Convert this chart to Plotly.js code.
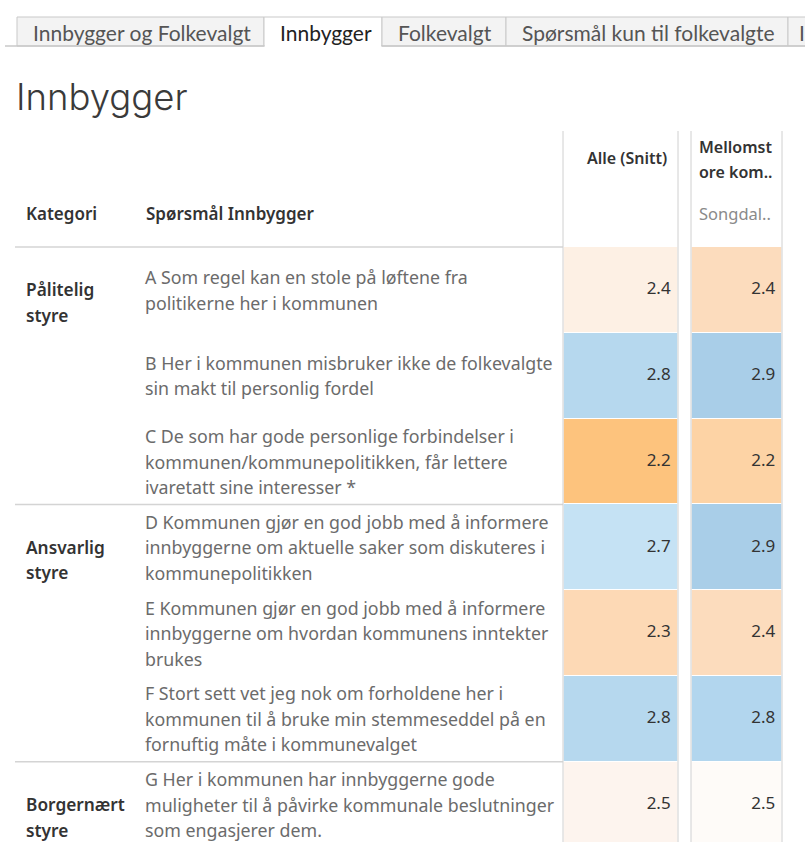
<!DOCTYPE html>
<html>
<head>
<meta charset="utf-8">
<script src="https://cdn.plot.ly/plotly-3.0.1.min.js"></script>
<style>
html, body { margin: 0; padding: 0; background: #ffffff; }
#chart { width: 805px; height: 842px; }
</style>
</head>
<body>
<div id="chart"></div>
<script>
// ---------------- data ----------------
const tabLabels = ["Innbygger og Folkevalgt", "Innbygger", "Folkevalgt", "Spørsmål kun til folkevalgte", "I"];
const selectedTab = "Innbygger";
const pageTitle = "Innbygger";
const rowHeaderTitles = ["Kategori", "Spørsmål Innbygger"];
const categories = ["Pålitelig<br>styre", "Ansvarlig<br>styre", "Borgernært<br>styre"];
const categoryFirstRow = [0, 3, 6];
const questions = [
  "A Som regel kan en stole på løftene fra<br>politikerne her i kommunen",
  "B Her i kommunen misbruker ikke de folkevalgte<br>sin makt til personlig fordel",
  "C De som har gode personlige forbindelser i<br>kommunen/kommunepolitikken, får lettere<br>ivaretatt sine interesser *",
  "D Kommunen gjør en god jobb med å informere<br>innbyggerne om aktuelle saker som diskuteres i<br>kommunepolitikken",
  "E Kommunen gjør en god jobb med å informere<br>innbyggerne om hvordan kommunens inntekter<br>brukes",
  "F Stort sett vet jeg nok om forholdene her i<br>kommunen til å bruke min stemmeseddel på en<br>fornuftig måte i kommunevalget",
  "G Her i kommunen har innbyggerne gode<br>muligheter til å påvirke kommunale beslutninger<br>som engasjerer dem."
];
const columnHeaders = ["Alle (Snitt)", "Mellomst<br>ore kom.."];
const columnSubHeaders = ["", "Songdal.."];
const alleValues = [2.4, 2.8, 2.2, 2.7, 2.3, 2.8, 2.5];
const mellomValues = [2.4, 2.9, 2.2, 2.9, 2.4, 2.8, 2.5];

// ---------------- layout helpers ----------------
const W = 805, H = 842;
const px = x => x / W;
const py = y => 1 - y / H;
const rowTop = 247, rowH = 85.8, lineH = 25.5;
const rowIdx = questions.map((_, i) => i);

const bodyFont = "'Noto Sans', 'Open Sans', sans-serif";
const tabFont = "Lato, 'Noto Sans', sans-serif";

// diverging scales (orange = low, blue = high), one per column
const alleScale = [
  [0, '#fdc37d'], [1/6, '#fdd9b5'], [2/6, '#fdf0e4'], [3/6, '#fdf4ee'],
  [5/6, '#c5e2f4'], [1, '#b6d8ee']
];
const mellomScale = [
  [0, '#fdd3a5'], [2/7, '#fcdcbd'], [3/7, '#fefbf8'],
  [6/7, '#b2d6ee'], [1, '#a9cee8']
];

const traces = [
  {
    type: 'heatmap', x: [0], y: rowIdx, z: alleValues.map(v => [v]),
    zmin: 2.2, zmax: 2.8, colorscale: alleScale, showscale: false,
    ygap: 1, hoverinfo: 'skip', xaxis: 'x', yaxis: 'y'
  },
  {
    type: 'heatmap', x: [0], y: rowIdx, z: mellomValues.map(v => [v]),
    zmin: 2.2, zmax: 2.9, colorscale: mellomScale, showscale: false,
    ygap: 1, hoverinfo: 'skip', xaxis: 'x2', yaxis: 'y'
  },
  {
    type: 'scatter', mode: 'text', x: alleValues.map(() => 0.44), y: rowIdx,
    text: alleValues.map(v => v.toFixed(1)), textposition: 'middle left',
    textfont: { family: bodyFont, size: 17, color: '#333333' },
    cliponaxis: false, hoverinfo: 'skip', showlegend: false, xaxis: 'x', yaxis: 'y'
  },
  {
    type: 'scatter', mode: 'text', x: mellomValues.map(() => 0.43), y: rowIdx,
    text: mellomValues.map(v => v.toFixed(1)), textposition: 'middle left',
    textfont: { family: bodyFont, size: 17, color: '#333333' },
    cliponaxis: false, hoverinfo: 'skip', showlegend: false, xaxis: 'x2', yaxis: 'y'
  }
];

const annotations = [];
const shapes = [];

// tabs
const tabEdges = [17, 264, 382, 506, 788, 860];
tabLabels.forEach((t, i) => {
  const sel = t === selectedTab;
  shapes.push({
    type: 'rect', xref: 'paper', yref: 'paper',
    x0: px(tabEdges[i]), x1: px(tabEdges[i + 1]), y0: py(46), y1: py(17),
    fillcolor: sel ? '#ffffff' : '#f3f3f3', line: { color: '#c9c9c9', width: 1 }, layer: 'below'
  });
  annotations.push({
    text: t, xref: 'paper', yref: 'paper', x: px(tabEdges[i] + (i === tabLabels.length - 1 ? 9 : 14)), y: py(32),
    xanchor: 'left', yanchor: 'middle', showarrow: false,
    font: { family: tabFont, size: 21, color: sel ? '#222222' : '#555555' }
  });
});
// bottom line of tab strip, interrupted under selected tab
const si = tabLabels.indexOf(selectedTab);
shapes.push({ type: 'line', xref: 'paper', yref: 'paper', x0: px(5), x1: px(tabEdges[si]), y0: py(46), y1: py(46), line: { color: '#c9c9c9', width: 1.5 } });
shapes.push({ type: 'line', xref: 'paper', yref: 'paper', x0: px(tabEdges[si + 1]), x1: 1, y0: py(46), y1: py(46), line: { color: '#c9c9c9', width: 1.5 } });
shapes.push({ type: 'line', xref: 'paper', yref: 'paper', x0: px(tabEdges[si] + 1), x1: px(tabEdges[si + 1] - 1), y0: py(46), y1: py(46), line: { color: '#ffffff', width: 2 } });

// title
annotations.push({
  text: pageTitle, xref: 'paper', yref: 'paper', x: px(14), y: py(97),
  xanchor: 'left', yanchor: 'middle', showarrow: false,
  font: { family: "Inter, 'Open Sans', sans-serif", size: 36.5, color: '#3a3a3a', weight: 300 }
});

// row header titles
annotations.push({
  text: rowHeaderTitles[0], xref: 'paper', yref: 'paper', x: px(24), y: py(213),
  xanchor: 'left', yanchor: 'middle', showarrow: false,
  font: { family: bodyFont, size: 17, color: '#333333', weight: 600 }
});
annotations.push({
  text: rowHeaderTitles[1], xref: 'paper', yref: 'paper', x: px(144), y: py(213),
  xanchor: 'left', yanchor: 'middle', showarrow: false,
  font: { family: bodyFont, size: 17, color: '#333333', weight: 600 }
});

// column headers
annotations.push({
  text: columnHeaders[0], xref: 'paper', yref: 'paper', x: px(585), y: py(158),
  xanchor: 'left', yanchor: 'middle', showarrow: false,
  font: { family: bodyFont, size: 16, color: '#333333', weight: 600 }
});
columnHeaders[1].split('<br>').forEach((ln, k) => {
  annotations.push({
    text: ln, xref: 'paper', yref: 'paper', x: px(697), y: py(147 + k * lineH),
    xanchor: 'left', yanchor: 'middle', showarrow: false,
    font: { family: bodyFont, size: 16, color: '#333333', weight: 600 }
  });
});
annotations.push({
  text: columnSubHeaders[1], xref: 'paper', yref: 'paper', x: px(697), y: py(213),
  xanchor: 'left', yanchor: 'middle', showarrow: false,
  font: { family: bodyFont, size: 16.5, color: '#8a8a8a' }
});

// questions, one annotation per line for Tableau-like line spacing
questions.forEach((q, i) => {
  const lines = q.split('<br>');
  lines.forEach((ln, k) => {
    annotations.push({
      text: ln, xref: 'paper', yref: 'y', x: px(143), y: i,
      yshift: -((k - (lines.length - 1) / 2) * lineH),
      xanchor: 'left', yanchor: 'middle', showarrow: false,
      font: { family: bodyFont, size: 17.8, color: '#6b6b6b' }
    });
  });
});

// categories: first line at centre of first row
categories.forEach((c, j) => {
  c.split('<br>').forEach((ln, k) => {
    annotations.push({
      text: ln, xref: 'paper', yref: 'y', x: px(24), y: categoryFirstRow[j],
      yshift: -(k * lineH), xanchor: 'left', yanchor: 'middle', showarrow: false,
      font: { family: bodyFont, size: 17.3, color: '#333333', weight: 600 }
    });
  });
});

// horizontal rules in the row header region
shapes.push({ type: 'line', xref: 'paper', yref: 'paper', x0: px(15), x1: px(563), y0: py(247), y1: py(247), line: { color: '#d4d4d4', width: 1.5 } });
categoryFirstRow.slice(1).forEach(r => {
  shapes.push({ type: 'line', xref: 'paper', yref: 'y', x0: px(15), x1: px(563), y0: r - 0.5, y1: r - 0.5, line: { color: '#d4d4d4', width: 1.5 } });
});
// column borders
[563, 678, 691, 782].forEach(x => {
  shapes.push({ type: 'line', xref: 'paper', yref: 'paper', x0: px(x), x1: px(x), y0: 0, y1: py(131), line: { color: '#d0d0d0', width: 1 }, layer: 'above' });
});

const layout = {
  width: W, height: H,
  margin: { l: 0, r: 0, t: 0, b: 0 },
  paper_bgcolor: '#ffffff', plot_bgcolor: 'rgba(0,0,0,0)',
  showlegend: false,
  xaxis: { domain: [px(563.5), px(677.5)], range: [-0.5, 0.5], visible: false, fixedrange: true },
  xaxis2: { domain: [px(691.5), px(781.5)], range: [-0.5, 0.5], visible: false, fixedrange: true, anchor: 'y' },
  yaxis: { domain: [0, py(rowTop)], range: [-0.5 + (H - rowTop) / rowH, -0.5], visible: false, fixedrange: true },
  annotations: annotations,
  shapes: shapes
};

Plotly.newPlot('chart', traces, layout, { displayModeBar: false, staticPlot: true });
</script>
</body>
</html>
